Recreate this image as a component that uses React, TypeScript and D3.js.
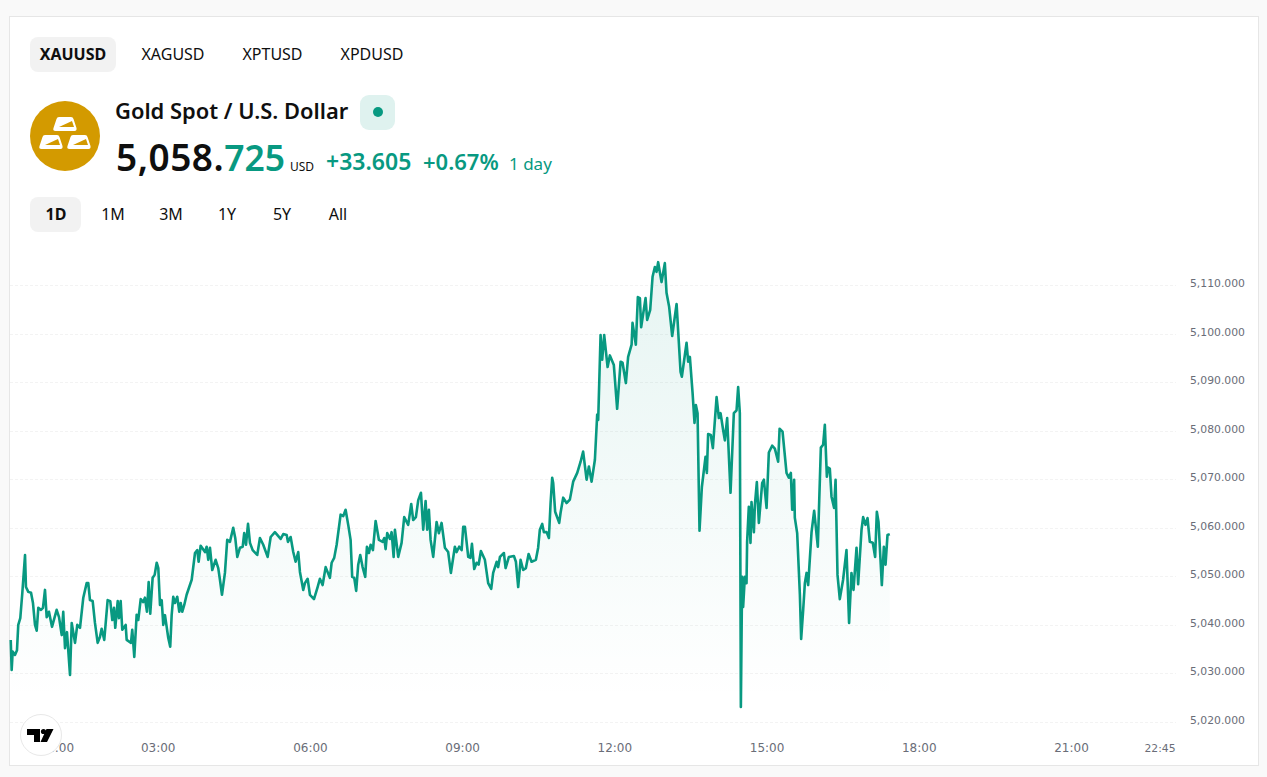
import * as React from 'react'
import * as d3 from 'd3'

const minutes = [
  5.6, 6.7, 7.9, 10.6, 13, 14.5, 16.9, 19.3, 22.5, 23.6, 26.4, 29.6, 31.9, 34.3, 36.3, 38.2, 41.4, 43.7, 46.1, 48.1,
  50.8, 54.4, 59.9, 62.7, 65.9, 67.7, 69.8, 72.1, 75.7, 77.7, 81.6, 84.3, 87.5, 91.4, 95.4, 97.3, 99.3, 102.5, 105.2, 108.4,
  111.1, 113.1, 116.2, 120.2, 123.3, 125.7, 127.7, 129.2, 132.1, 133.6, 135.6, 137.5, 141.5, 142.7, 147.8, 149.3, 151.7, 154.5, 156.4, 159.3,
  162.3, 164.3, 166.7, 168.7, 170.6, 173.4, 175.8, 178.2, 180.1, 182.1, 184.1, 186, 188, 190, 191.9, 194.2, 195.9, 197.8, 199.8, 202.5,
  204.9, 206.6, 208.4, 210.8, 213.6, 219.6, 223.5, 226.2, 227.8, 230.2, 235.3, 237.3, 239.2, 241.2, 243.9, 247.9, 251, 253, 255.4, 258.9,
  261.6, 264.8, 268.7, 271.1, 273.5, 276.7, 279.9, 281.7, 283.8, 286.2, 288.5, 291.7, 297.1, 300.3, 304.2, 309.4, 313, 318, 324.8, 327.9,
  331.9, 333.4, 336.6, 339.7, 342.5, 345.6, 347.6, 351.5, 353.5, 356.7, 359.4, 364.2, 368.5, 371.2, 374.4, 378, 383, 385.1, 388.1, 391,
  395.7, 398.8, 401.6, 404.7, 407.5, 409.4, 411.8, 414.1, 416.5, 418.9, 421.7, 424.8, 426.8, 429.2, 431.2, 433.9, 437.1, 441, 445.4, 447.3,
  448.9, 450.8, 454, 456, 458.4, 459.9, 463.8, 467.8, 470.9, 475.6, 479.2, 481.5, 484.7, 487.5, 490.7, 493.4, 496.2, 498.1, 500.1, 502.1,
  505.2, 509.2, 511.9, 515.1, 519, 522.9, 526.1, 530.8, 532.9, 535.9, 538.8, 540.7, 542.7, 546.6, 549.2, 551, 553.7, 556.5, 558.9, 561.6,
  566.3, 570.2, 573.8, 576.1, 580.2, 582, 584.1, 588.8, 590.8, 594.7, 600.6, 603, 605.7, 608.5, 611.6, 614.8, 618, 621.5, 626.6, 629.3,
  631.3, 634.1, 636.1, 639.3, 642, 644, 645.9, 647.1, 649.4, 654.2, 655.8, 658.9, 662.9, 666.8, 670.7, 675.5, 679.5, 682.5, 686.6, 689.3,
  692.5, 696.4, 699.1, 700.3, 703.1, 705, 707.4, 711.4, 714.1, 718.8, 722.7, 726.8, 729.1, 733, 735.7, 739.8, 740.9, 744.8, 747.2, 749.6,
  751.1, 756.3, 758.2, 761.8, 764.6, 767.3, 769.3, 771.2, 775.2, 779.1, 781.1, 784.2, 787.8, 793, 797.7, 799.2, 804.8, 806.7, 808.7, 811.9,
  814.2, 815.8, 817.8, 820.1, 822.9, 827.2, 828.8, 830.3, 833.5, 835.9, 840.3, 843, 845, 848.1, 850.1, 852.8, 856.8, 860.7, 863.9, 865.8,
  867.8, 869, 870.5, 871.7, 873.7, 875.7, 876.4, 878.4, 880.4, 881.6, 884.4, 885.6, 887.9, 890.3, 894.2, 896.2, 899.4, 902.1, 906, 909.2,
  913.1, 914.8, 918.3, 923, 925.7, 928.1, 929.7, 932, 932.8, 935.6, 938.8, 940.3, 942.7, 944.7, 946.7, 948.6, 952.6, 955.7, 960, 963.6,
  966.3, 968.3, 970.7, 972.2, 974.2, 976.2, 979.3, 981, 983.3, 986, 989.9, 993.9, 997, 999.8, 1002.2, 1005.8, 1007.7, 1011.7, 1013.6, 1016.4,
  1018.8, 1021.5, 1025, 1027.8, 1029.8, 1031.8, 1035.7, 1038.1, 1040.1, 1042.4, 1045.1,
]

const prices = [
  5036.9, 5030.7, 5034.5, 5033.8, 5034.8, 5040, 5041.4, 5046.6, 5054.4, 5047.8, 5046.8, 5046.6, 5044.5, 5040, 5038.8, 5043.5, 5043.1, 5043.5, 5047.2, 5041.6,
  5042.7, 5039.6, 5043.1, 5041.6, 5037.9, 5042.7, 5035.2, 5038.5, 5029.7, 5040.4, 5036.3, 5040, 5039.4, 5045.6, 5048.6, 5048.6, 5045.1, 5044.9, 5040.4, 5036.3,
  5037.5, 5039.2, 5036.9, 5045.1, 5044.9, 5041, 5043.5, 5039.4, 5044.9, 5041.4, 5044.9, 5039, 5040, 5036.9, 5036.3, 5039, 5033.4, 5042.1, 5041, 5045.3,
  5044.7, 5045.6, 5042.7, 5048.8, 5042.3, 5049.7, 5050.3, 5052.8, 5051.7, 5044.1, 5045.1, 5040, 5042, 5039.6, 5037.3, 5035.5, 5042, 5045.8, 5044.5, 5045.8,
  5042.7, 5044.5, 5042.7, 5044.1, 5046.2, 5049.3, 5054.8, 5055.4, 5053, 5056.3, 5055, 5056.1, 5053.4, 5055.9, 5051.3, 5053.4, 5051.7, 5049.3, 5046.2, 5050.7,
  5057.5, 5057.1, 5060, 5057.9, 5054, 5055.9, 5056.1, 5058.9, 5056.5, 5060.8, 5056.9, 5055.4, 5054.4, 5057.9, 5056.5, 5054, 5058.1, 5059.1, 5057.7, 5058.7,
  5058.5, 5057.1, 5058.1, 5055, 5053, 5055, 5050.9, 5047.2, 5048.6, 5049.5, 5046.2, 5045.3, 5047.8, 5049.5, 5048.2, 5051.9, 5049.7, 5052.8, 5053.8, 5056.5,
  5062.7, 5062.4, 5063.7, 5060.6, 5057.5, 5049.9, 5049.7, 5047, 5052.4, 5054.4, 5051.9, 5049.9, 5056.1, 5054.8, 5056.5, 5055.4, 5061.4, 5057.5, 5057.1, 5057.9,
  5055.6, 5058.9, 5057.7, 5059.1, 5054, 5059.6, 5054, 5056.9, 5062.2, 5060.6, 5064.9, 5061.6, 5062.2, 5065.7, 5067.2, 5059.6, 5065.5, 5059.6, 5063.7, 5057.5,
  5054, 5061.2, 5058.9, 5061, 5055.9, 5055, 5050.7, 5056.1, 5055, 5056.1, 5055.4, 5060.2, 5060.2, 5054, 5053.8, 5056.7, 5051.5, 5052.8, 5052.4, 5055.2,
  5053.4, 5048.6, 5047.4, 5050.7, 5053, 5051.9, 5054, 5054.8, 5051.7, 5054, 5054.2, 5053, 5047.8, 5053.4, 5051.3, 5051.7, 5054.6, 5053, 5053.4, 5055.9,
  5059.6, 5060.8, 5059.1, 5059.1, 5057.9, 5065.1, 5070.3, 5069.2, 5063.3, 5061, 5063.1, 5066.2, 5065.1, 5065.8, 5069.5, 5071.3, 5073.6, 5075.7, 5069.9, 5072.6,
  5069.5, 5074, 5083.3, 5082.2, 5099.7, 5094.6, 5099.7, 5093.1, 5095.5, 5093.5, 5084.5, 5094.2, 5094, 5089.8, 5095.2, 5097.7, 5102.2, 5097.7, 5107.5, 5107.3,
  5101.3, 5107.3, 5102.8, 5104.9, 5111.7, 5113.7, 5112.7, 5114.7, 5110.6, 5114.5, 5108.4, 5105.5, 5099.5, 5106.1, 5092.1, 5091.1, 5098.1, 5094.2, 5095.2, 5087.8,
  5081.6, 5085.3, 5083.6, 5059.4, 5068.4, 5074.6, 5071.3, 5079.3, 5079.1, 5076.4, 5086.9, 5082.6, 5083.6, 5080.1, 5078, 5082.6, 5067.2, 5083.6, 5084.2, 5089,
  5083.6, 5023.1, 5049.9, 5043.7, 5049.9, 5048.6, 5057.1, 5064.3, 5056.9, 5065.3, 5059.1, 5064.7, 5069.4, 5061, 5069.2, 5069.9, 5064.1, 5075.5, 5076.9, 5076.3,
  5073.6, 5080.4, 5079.8, 5071.3, 5070.3, 5071.3, 5063.7, 5069.9, 5062.1, 5058.9, 5046.2, 5037.1, 5043.1, 5048.6, 5050.7, 5048.2, 5059.1, 5063.5, 5056.1, 5076.5,
  5077.1, 5081.2, 5070.5, 5072.4, 5072.2, 5066.4, 5064.1, 5069.9, 5050.3, 5045.3, 5049.3, 5055.4, 5040.4, 5050.7, 5047.2, 5055.9, 5048.4, 5059.6, 5062.2, 5060.6,
  5062, 5057.1, 5056.9, 5054, 5063.3, 5061.2, 5048.2, 5056.1, 5052.4, 5058.5, 5058.7,
]

const priceTicks = [5110, 5100, 5090, 5080, 5070, 5060, 5050, 5040, 5030, 5020]
const timeTicks = [60, 180, 360, 540, 720, 900, 1080, 1260]
const timeLabels = ['01:00', '03:00', '06:00', '09:00', '12:00', '15:00', '18:00', '21:00']
const symbols = ['XAUUSD', 'XAGUSD', 'XPTUSD', 'XPDUSD']
const ranges = ['1D', '1M', '3M', '1Y', '5Y', 'All']

const symbolX = [73, 173, 272.5, 372]
const rangeX = [56, 113, 171, 227, 282, 338]

const GREEN = '#089981'
const HEAD_FONT = '"Noto Sans", sans-serif'
const AXIS_FONT = '"DejaVu Sans", sans-serif'

export default function App() {
  const svgRef = React.useRef<SVGSVGElement>(null)

  React.useEffect(() => {
    if (!svgRef.current) return
    const svg = d3.select(svgRef.current)
    svg.selectAll('*').remove()

    const x = d3.scaleLinear().domain([0, 1260]).range([6, 1071.5])
    const y = d3.scaleLinear().domain([5020, 5110]).range([722, 285])

    const defs = svg.append('defs')
    const grad = defs
      .append('linearGradient')
      .attr('id', 'areaFill')
      .attr('gradientUnits', 'userSpaceOnUse')
      .attr('x1', 0)
      .attr('x2', 0)
      .attr('y1', 262)
      .attr('y2', 700)
    grad.append('stop').attr('offset', 0).attr('stop-color', GREEN).attr('stop-opacity', 0.1)
    grad.append('stop').attr('offset', 1).attr('stop-color', GREEN).attr('stop-opacity', 0)

    // Card
    svg.append('rect').attr('width', 1267).attr('height', 777).attr('fill', '#f9f9f9')
    svg
      .append('rect')
      .attr('x', 9.5)
      .attr('y', 16.5)
      .attr('width', 1249)
      .attr('height', 749)
      .attr('fill', '#fff')
      .attr('stroke', '#e6e6e6')

    // Symbol tabs
    svg.append('rect').attr('x', 30).attr('y', 37).attr('width', 86).attr('height', 35).attr('rx', 8).attr('fill', '#f2f2f2')
    symbols.forEach((s, i) => {
      svg
        .append('text')
        .attr('x', symbolX[i])
        .attr('y', 59.5)
        .attr('text-anchor', 'middle')
        .attr('font-family', HEAD_FONT)
        .attr('font-size', 16)
        .attr('font-weight', i === 0 ? 700 : 400)
        .attr('fill', '#0f0f0f')
        .text(s)
    })

    // Gold icon
    svg.append('circle').attr('cx', 65).attr('cy', 136).attr('r', 35).attr('fill', '#d39a00')
    const bars = svg.append('g').attr('fill', '#fff')
    ;[
      [54, 117],
      [40, 135],
      [68, 135],
    ].forEach(([bx, by]) => {
      const w = 22
      bars
        .append('path')
        .attr('d', `M${bx + 5},${by} h${w - 10} q2,0 2.5,2 l3,9 q0.5,3 -2,3 h${-w + 3} q-3,0 -2,-3 l3,-9 q0.5,-2 2.5,-2 z`)
      bars
        .append('path')
        .attr('d', `M${bx + 5},${by + 10} l${w - 9},-6 l2,6 z`)
        .attr('fill', '#d39a00')
    })

    // Title and price
    svg
      .append('text')
      .attr('x', 115)
      .attr('y', 119)
      .attr('font-family', HEAD_FONT)
      .attr('font-size', 21.9)
      .attr('font-weight', 600)
      .attr('fill', '#0f0f0f')
      .text('Gold Spot / U.S. Dollar')
    svg.append('rect').attr('x', 360).attr('y', 95).attr('width', 35).attr('height', 35).attr('rx', 9).attr('fill', '#dff2ef')
    svg.append('circle').attr('cx', 378).attr('cy', 112).attr('r', 5).attr('fill', GREEN)

    const price = svg
      .append('text')
      .attr('x', 116)
      .attr('y', 171)
      .attr('font-family', HEAD_FONT)
      .attr('font-size', 37)
      .attr('font-weight', 600)
      .attr('fill', '#0f0f0f')
    price.append('tspan').attr('letter-spacing', 0.5).text('5,058.')
    price.append('tspan').attr('fill', GREEN).attr('font-size', 35.5).text('725')
    svg
      .append('text')
      .attr('x', 290)
      .attr('y', 171)
      .attr('font-family', HEAD_FONT)
      .attr('font-size', 12)
      .attr('fill', '#0f0f0f')
      .text('USD')
    svg
      .append('text')
      .attr('x', 326)
      .attr('y', 170)
      .attr('font-family', HEAD_FONT)
      .attr('font-size', 23)
      .attr('font-weight', 600)
      .attr('fill', GREEN)
      .text('+33.605')
    svg
      .append('text')
      .attr('x', 423)
      .attr('y', 170)
      .attr('font-family', HEAD_FONT)
      .attr('font-size', 22)
      .attr('font-weight', 600)
      .attr('fill', GREEN)
      .text('+0.67%')
    svg
      .append('text')
      .attr('x', 509)
      .attr('y', 170)
      .attr('font-family', HEAD_FONT)
      .attr('font-size', 17)
      .attr('fill', GREEN)
      .text('1 day')

    // Range tabs
    svg.append('rect').attr('x', 30).attr('y', 197).attr('width', 51).attr('height', 35).attr('rx', 8).attr('fill', '#f2f2f2')
    ranges.forEach((r, i) => {
      svg
        .append('text')
        .attr('x', rangeX[i])
        .attr('y', 219.5)
        .attr('text-anchor', 'middle')
        .attr('font-family', HEAD_FONT)
        .attr('font-size', 16)
        .attr('font-weight', i === 0 ? 700 : 400)
        .attr('fill', '#0f0f0f')
        .text(r)
    })

    // Grid
    priceTicks.forEach((t) => {
      svg
        .append('line')
        .attr('x1', 10)
        .attr('x2', 1176)
        .attr('y1', Math.round(y(t)) + 0.5)
        .attr('y2', Math.round(y(t)) + 0.5)
        .attr('stroke', '#f3f3f3')
        .attr('stroke-dasharray', '3 2')
      svg
        .append('text')
        .attr('x', 1190)
        .attr('y', y(t) + 2)
        .attr('font-family', AXIS_FONT)
        .attr('font-size', 10.8)
        .attr('fill', '#6a6d78')
        .text(d3.format(',.3f')(t))
    })

    // Area and line
    const idx = d3.range(minutes.length)
    const area = d3
      .area<number>()
      .x((i) => x(minutes[i]))
      .y0(722)
      .y1((i) => y(prices[i]))
    svg.append('path').datum(idx).attr('d', area).attr('fill', 'url(#areaFill)')

    const line = d3
      .line<number>()
      .x((i) => x(minutes[i]))
      .y((i) => y(prices[i]))
    svg
      .append('path')
      .datum(idx)
      .attr('d', line)
      .attr('fill', 'none')
      .attr('stroke', GREEN)
      .attr('stroke-width', 2.6)
      .attr('stroke-linejoin', 'round')

    // Time axis
    timeTicks.forEach((t, i) => {
      svg
        .append('text')
        .attr('x', x(t))
        .attr('y', 752)
        .attr('text-anchor', 'middle')
        .attr('font-family', AXIS_FONT)
        .attr('font-size', 12)
        .attr('fill', '#6a6d78')
        .text(timeLabels[i])
    })
    svg
      .append('text')
      .attr('x', 1160)
      .attr('y', 752)
      .attr('text-anchor', 'middle')
      .attr('font-family', AXIS_FONT)
      .attr('font-size', 10.8)
      .attr('fill', '#6a6d78')
      .text('22:45')

    // TradingView badge
    svg.append('circle').attr('cx', 41).attr('cy', 735).attr('r', 20.5).attr('fill', '#fff').attr('stroke', '#e8e8e8')
    svg
      .append('path')
      .attr('d', 'M27,729 h13 v13 h-6 v-7 h-7 z M47,742 h-6.5 l6,-13 h7 z')
      .attr('fill', '#000')
    svg.append('circle').attr('cx', 43.5).attr('cy', 731.5).attr('r', 2.6).attr('fill', '#000')
  }, [])

  return (
    <div style={{ position: 'fixed', left: 0, top: 0 }}>
      <svg ref={svgRef} width={1267} height={777} style={{ display: 'block' }} />
    </div>
  )
}
